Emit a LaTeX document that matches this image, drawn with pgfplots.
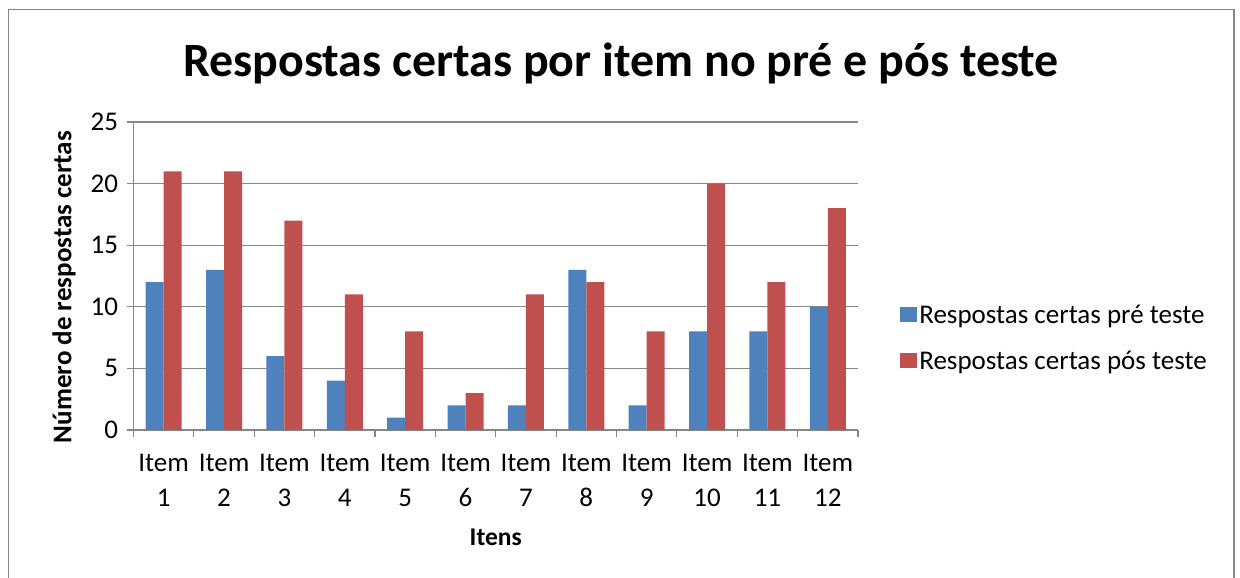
\documentclass[border=0pt]{standalone}
\usepackage{pgfplots}
\pgfplotsset{compat=1.18}
\usepackage{fontspec}
\setmainfont{Carlito}
\definecolor{blu}{HTML}{4F81BD}
\definecolor{rd}{HTML}{C0504D}
\definecolor{gr}{HTML}{868686}
\begin{document}
\begin{tikzpicture}[x=1pt,y=1pt]
\useasboundingbox (0,0) rectangle (1240,578);
\draw[gr, line width=1.6pt] (8.5,-5) -- (8.5,568.5) -- (1234,568.5) -- (1234,-5);
\node[font=\fontsize{47.9}{50}\selectfont\bfseries] at (621,515) {Respostas certas por item no pré e pós teste};
\begin{axis}[
  at={(133.5pt,148pt)}, anchor=south west,
  scale only axis, width=724.5pt, height=308pt,
  xmin=0.5, xmax=12.5, ymin=0, ymax=25,
  ybar=0pt, bar width=18pt,
  axis lines=left, axis line style={-, gr, line width=1.2pt},
  ytick={0,5,...,25},
  ymajorgrids, grid style={gr, line width=1.2pt},
  y tick style={gr, line width=1.2pt},
  major tick length=7pt,
  tick align=outside,
  /pgf/number format/assume math mode=true,
  xtick={1,...,12},
  x tick style={draw=none},
  xticklabels={{Item\\1},{Item\\2},{Item\\3},{Item\\4},{Item\\5},{Item\\6},{Item\\7},{Item\\8},{Item\\9},{Item\\10},{Item\\11},{Item\\12}},
  x tick label style={align=center, font=\fontsize{27}{35}\selectfont, yshift=-14pt},
  extra x ticks={0.5,1.5,...,12.5},
  extra x tick labels={},
  extra x tick style={x tick style={draw=gr, line width=1.2pt}, grid=none},
  y tick label style={font=\fontsize{27}{30}\selectfont, xshift=-5pt},
  xlabel={\textbf{Itens}}, ylabel={\textbf{Número de respostas certas}},
  xlabel style={font=\fontsize{25.5}{30}\selectfont, yshift=-1pt},
  ylabel style={font=\fontsize{27}{30}\selectfont, yshift=8pt, xshift=-11pt},
  legend style={draw=none, at={(1.054,0.3)}, anchor=west, font=\fontsize{27}{30}\selectfont, row sep=22pt, legend cell align=left},
  legend image code/.code={\fill[#1] (0pt,-7pt) rectangle (14.5pt,7.5pt); \path (0pt,-7pt) rectangle (17pt,7.5pt);},
]
\addplot[fill=blu, draw=none] coordinates {(1,12) (2,13) (3,6) (4,4) (5,1) (6,2) (7,2) (8,13) (9,2) (10,8) (11,8) (12,10)};
\addplot[fill=rd, draw=none] coordinates {(1,21) (2,21) (3,17) (4,11) (5,8) (6,3) (7,11) (8,12) (9,8) (10,20) (11,12) (12,18)};
\legend{Respostas certas pré teste, Respostas certas pós teste}
\end{axis}
\end{tikzpicture}
\end{document}
